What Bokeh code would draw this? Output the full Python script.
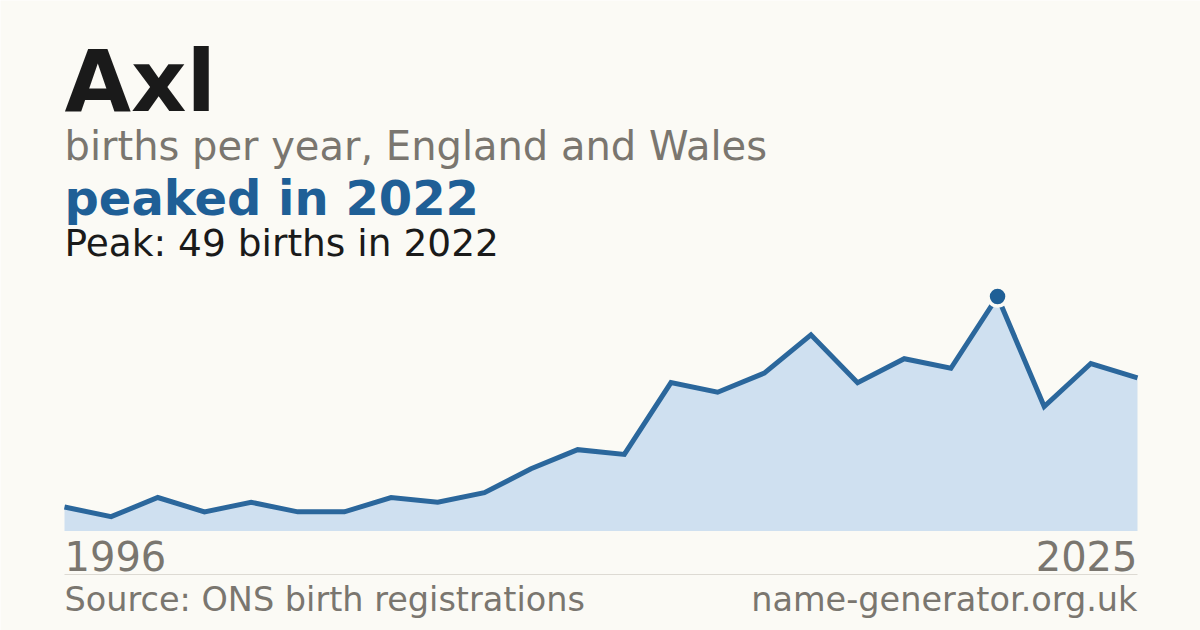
from bokeh.plotting import figure
from bokeh.models import Label, BoxAnnotation, Range1d, ColumnDataSource
from bokeh.embed import file_html
from bokeh.resources import INLINE

# ---- data ----
births = [5, 3, 7, 4, 6, 4, 4, 7, 6, 8, 13, 17, 16, 31, 29, 33, 41, 31, 36, 34, 49, 26, 35, 32]
index = list(range(len(births)))
tick_labels = ["1996", "2025"]
peak_year = "2022"
title_text = "Axl"
subtitle_text = "births per year, England and Wales"
headline_text = "peaked in 2022"
peak_text = "Peak: 49 births in 2022"
source_text = "Source: ONS birth registrations"
site_text = "name-generator.org.uk"

BG = "#fbfaf5"
BLUE = "#1f5f96"
LINE = "#2b679c"
AREA = "#cfe0f0"
GRAY = "#7a766f"
DARK = "#1a1a1a"
FONT = "DejaVu Sans"

W, H = 1200, 630
x_left, x_right = 64, 1137          # canvas px of first/last point
y_zero, y_peak = 99.5, 334.0        # canvas px (from bottom) for 0 and max
n = len(births)
xs = (x_right - x_left) / (n - 1)
ys = (y_peak - y_zero) / max(births)

p = figure(width=W, height=H, output_backend="svg", toolbar_location=None,
           min_border=0, x_axis_type=None, y_axis_type=None)
p.x_range = Range1d(-x_left / xs, (W - x_left) / xs)
p.y_range = Range1d(-y_zero / ys, (H - y_zero) / ys)
p.background_fill_color = BG
p.border_fill_color = BG
p.outline_line_color = None
p.grid.visible = False

src = ColumnDataSource(dict(x=index, y=births, z=[0] * n))
p.varea(x="x", y1="z", y2="y", source=src, fill_color=AREA)
p.line(x="x", y="y", source=src, line_color=LINE, line_width=5, line_join="miter")

pk = births.index(max(births))
p.scatter(x=[index[pk]], y=[births[pk]], size=19, fill_color=BLUE,
          line_color=BG, line_width=3.5)

p.add_layout(BoxAnnotation(left=x_left, right=x_right, bottom=55.5, top=56.5,
                           left_units="screen", right_units="screen",
                           bottom_units="screen", top_units="screen",
                           fill_color="#dddad3", fill_alpha=1, line_color=None))

def lab(text, x, baseline_from_top, size, color, bold=False, align="left"):
    y = H - baseline_from_top + 0.36 * size
    p.add_layout(Label(x=x, y=y, x_units="screen", y_units="screen", text=text,
                       text_font=FONT, text_font_size=f"{size}px",
                       text_font_style="bold" if bold else "normal",
                       text_color=color, text_align=align,
                       text_baseline="alphabetic"))

lab(title_text, x_left, 111, 86, DARK, bold=True)
lab(subtitle_text, x_left, 160, 40, GRAY)
lab(headline_text, x_left, 215, 48, BLUE, bold=True)
lab(peak_text, x_left, 256, 37.5, DARK)
lab(tick_labels[0], x_left, 570, 40, GRAY)
lab(tick_labels[1], x_right, 570, 40, GRAY, align="right")
lab(source_text, x_left, 611, 33.5, GRAY)
lab(site_text, x_right, 611, 33.5, GRAY, align="right")

open("out.html", "w").write(file_html(p, INLINE))
